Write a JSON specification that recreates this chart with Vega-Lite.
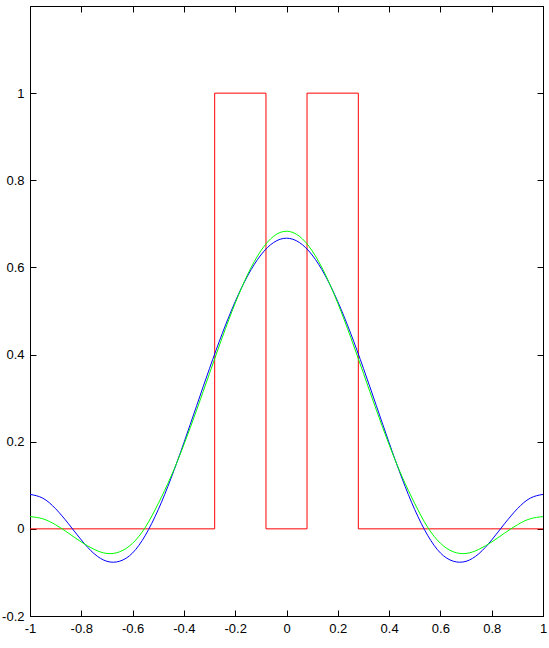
{
  "$schema": "https://vega.github.io/schema/vega-lite/v6.json",
  "width": 513,
  "height": 610,
  "autosize": {"type": "none"},
  "padding": {"left": 30, "top": 6, "right": 6, "bottom": 32},
  "background": "white",
  "config": {
    "view": {"stroke": "black", "strokeWidth": 1},
    "axis": {
      "domainColor": "black",
      "tickColor": "black",
      "labelColor": "black",
      "labelFont": "Liberation Sans",
      "labelFontSize": 13,
      "grid": false,
      "title": null
    }
  },
  "datasets": {
    "step": [
      {"s": "step", "i": 0, "x": -1, "y": 0},
      {"s": "step", "i": 1, "x": -0.28, "y": 0},
      {"s": "step", "i": 2, "x": -0.28, "y": 1},
      {"s": "step", "i": 3, "x": -0.08, "y": 1},
      {"s": "step", "i": 4, "x": -0.08, "y": 0},
      {"s": "step", "i": 5, "x": 0.08, "y": 0},
      {"s": "step", "i": 6, "x": 0.08, "y": 1},
      {"s": "step", "i": 7, "x": 0.28, "y": 1},
      {"s": "step", "i": 8, "x": 0.28, "y": 0},
      {"s": "step", "i": 9, "x": 1, "y": 0}
    ],
    "curves": [
      {"s": "approxA", "i": 0, "x": -1, "y": 0.0791},
      {"s": "approxA", "i": 1, "x": -0.95, "y": 0.0704},
      {"s": "approxA", "i": 2, "x": -0.9, "y": 0.0461},
      {"s": "approxA", "i": 3, "x": -0.85, "y": 0.0117},
      {"s": "approxA", "i": 4, "x": -0.8, "y": -0.0255},
      {"s": "approxA", "i": 5, "x": -0.75, "y": -0.057},
      {"s": "approxA", "i": 6, "x": -0.7, "y": -0.0745},
      {"s": "approxA", "i": 7, "x": -0.65, "y": -0.0742},
      {"s": "approxA", "i": 8, "x": -0.6, "y": -0.0553},
      {"s": "approxA", "i": 9, "x": -0.55, "y": -0.0145},
      {"s": "approxA", "i": 10, "x": -0.5, "y": 0.0441},
      {"s": "approxA", "i": 11, "x": -0.45, "y": 0.1164},
      {"s": "approxA", "i": 12, "x": -0.4, "y": 0.1977},
      {"s": "approxA", "i": 13, "x": -0.35, "y": 0.2831},
      {"s": "approxA", "i": 14, "x": -0.3, "y": 0.3683},
      {"s": "approxA", "i": 15, "x": -0.25, "y": 0.449},
      {"s": "approxA", "i": 16, "x": -0.2, "y": 0.5215},
      {"s": "approxA", "i": 17, "x": -0.15, "y": 0.5824},
      {"s": "approxA", "i": 18, "x": -0.1, "y": 0.6285},
      {"s": "approxA", "i": 19, "x": -0.05, "y": 0.6573},
      {"s": "approxA", "i": 20, "x": 0, "y": 0.6671},
      {"s": "approxA", "i": 21, "x": 0.05, "y": 0.6573},
      {"s": "approxA", "i": 22, "x": 0.1, "y": 0.6285},
      {"s": "approxA", "i": 23, "x": 0.15, "y": 0.5824},
      {"s": "approxA", "i": 24, "x": 0.2, "y": 0.5215},
      {"s": "approxA", "i": 25, "x": 0.25, "y": 0.449},
      {"s": "approxA", "i": 26, "x": 0.3, "y": 0.3683},
      {"s": "approxA", "i": 27, "x": 0.35, "y": 0.2831},
      {"s": "approxA", "i": 28, "x": 0.4, "y": 0.1977},
      {"s": "approxA", "i": 29, "x": 0.45, "y": 0.1164},
      {"s": "approxA", "i": 30, "x": 0.5, "y": 0.0441},
      {"s": "approxA", "i": 31, "x": 0.55, "y": -0.0145},
      {"s": "approxA", "i": 32, "x": 0.6, "y": -0.0553},
      {"s": "approxA", "i": 33, "x": 0.65, "y": -0.0742},
      {"s": "approxA", "i": 34, "x": 0.7, "y": -0.0745},
      {"s": "approxA", "i": 35, "x": 0.75, "y": -0.057},
      {"s": "approxA", "i": 36, "x": 0.8, "y": -0.0255},
      {"s": "approxA", "i": 37, "x": 0.85, "y": 0.0117},
      {"s": "approxA", "i": 38, "x": 0.9, "y": 0.0461},
      {"s": "approxA", "i": 39, "x": 0.95, "y": 0.0704},
      {"s": "approxA", "i": 40, "x": 1, "y": 0.0791},

      {"s": "approxB", "i": 0, "x": -1, "y": 0.0281},
      {"s": "approxB", "i": 1, "x": -0.95, "y": 0.0231},
      {"s": "approxB", "i": 2, "x": -0.9, "y": 0.0093},
      {"s": "approxB", "i": 3, "x": -0.85, "y": -0.0099},
      {"s": "approxB", "i": 4, "x": -0.8, "y": -0.0301},
      {"s": "approxB", "i": 5, "x": -0.75, "y": -0.047},
      {"s": "approxB", "i": 6, "x": -0.7, "y": -0.0565},
      {"s": "approxB", "i": 7, "x": -0.65, "y": -0.0525},
      {"s": "approxB", "i": 8, "x": -0.6, "y": -0.033},
      {"s": "approxB", "i": 9, "x": -0.55, "y": 0.004},
      {"s": "approxB", "i": 10, "x": -0.5, "y": 0.0581},
      {"s": "approxB", "i": 11, "x": -0.45, "y": 0.1206},
      {"s": "approxB", "i": 12, "x": -0.4, "y": 0.1933},
      {"s": "approxB", "i": 13, "x": -0.35, "y": 0.2733},
      {"s": "approxB", "i": 14, "x": -0.3, "y": 0.357},
      {"s": "approxB", "i": 15, "x": -0.25, "y": 0.44},
      {"s": "approxB", "i": 16, "x": -0.2, "y": 0.5179},
      {"s": "approxB", "i": 17, "x": -0.15, "y": 0.5856},
      {"s": "approxB", "i": 18, "x": -0.1, "y": 0.6382},
      {"s": "approxB", "i": 19, "x": -0.05, "y": 0.6716},
      {"s": "approxB", "i": 20, "x": 0, "y": 0.6831},
      {"s": "approxB", "i": 21, "x": 0.05, "y": 0.6716},
      {"s": "approxB", "i": 22, "x": 0.1, "y": 0.6382},
      {"s": "approxB", "i": 23, "x": 0.15, "y": 0.5856},
      {"s": "approxB", "i": 24, "x": 0.2, "y": 0.5179},
      {"s": "approxB", "i": 25, "x": 0.25, "y": 0.44},
      {"s": "approxB", "i": 26, "x": 0.3, "y": 0.357},
      {"s": "approxB", "i": 27, "x": 0.35, "y": 0.2733},
      {"s": "approxB", "i": 28, "x": 0.4, "y": 0.1933},
      {"s": "approxB", "i": 29, "x": 0.45, "y": 0.1206},
      {"s": "approxB", "i": 30, "x": 0.5, "y": 0.0581},
      {"s": "approxB", "i": 31, "x": 0.55, "y": 0.004},
      {"s": "approxB", "i": 32, "x": 0.6, "y": -0.033},
      {"s": "approxB", "i": 33, "x": 0.65, "y": -0.0525},
      {"s": "approxB", "i": 34, "x": 0.7, "y": -0.0565},
      {"s": "approxB", "i": 35, "x": 0.75, "y": -0.047},
      {"s": "approxB", "i": 36, "x": 0.8, "y": -0.0301},
      {"s": "approxB", "i": 37, "x": 0.85, "y": -0.0099},
      {"s": "approxB", "i": 38, "x": 0.9, "y": 0.0093},
      {"s": "approxB", "i": 39, "x": 0.95, "y": 0.0231},
      {"s": "approxB", "i": 40, "x": 1, "y": 0.0281}
    ]
  },
  "resolve": {"axis": {"x": "independent", "y": "independent"}},
  "layer": [
    {
      "data": {"name": "step"},
      "mark": {"type": "line", "strokeWidth": 1, "interpolate": "linear", "clip": true},
      "encoding": {
        "x": {"field": "x", "type": "quantitative",
              "scale": {"domain": [-1, 1], "nice": false, "zero": false},
              "axis": {"orient": "bottom", "values": [-1, -0.8, -0.6, -0.4, -0.2, 0, 0.2, 0.4, 0.6, 0.8, 1],
                       "tickSize": -6, "labelPadding": 12, "labelExpr": "'' + datum.value", "domain": true, "labelFlush": false, "labelOverlap": false}},
        "y": {"field": "y", "type": "quantitative",
              "scale": {"domain": [-0.2, 1.2], "nice": false, "zero": false},
              "axis": {"orient": "left", "values": [-0.2, 0, 0.2, 0.4, 0.6, 0.8, 1],
                       "tickSize": -6, "labelPadding": 12, "labelExpr": "'' + datum.value", "domain": true, "labelFlush": false, "labelOverlap": false}},
        "color": {"field": "s", "type": "nominal", "legend": null,
                  "scale": {"domain": ["step", "approxB", "approxA"], "range": ["#ff0000", "#00ff00", "#0000ff"]}},
        "order": {"field": "i", "type": "quantitative"}
      }
    },
    {
      "data": {"name": "curves"},
      "mark": {"type": "line", "strokeWidth": 1, "interpolate": "natural", "clip": true},
      "encoding": {
        "x": {"field": "x", "type": "quantitative", "axis": null},
        "y": {"field": "y", "type": "quantitative", "axis": null},
        "color": {"field": "s", "type": "nominal", "legend": null},
        "order": {"field": "i", "type": "quantitative"}
      }
    },
    {
      "data": {"name": "step"},
      "mark": {"type": "point", "opacity": 0},
      "encoding": {
        "x": {"field": "x", "type": "quantitative",
              "axis": {"orient": "top", "values": [-1, -0.8, -0.6, -0.4, -0.2, 0, 0.2, 0.4, 0.6, 0.8, 1], "tickSize": -6, "labels": false, "domain": true}},
        "y": {"field": "y", "type": "quantitative",
              "axis": {"orient": "right", "values": [-0.2, 0, 0.2, 0.4, 0.6, 0.8, 1], "tickSize": -6, "labels": false, "domain": true}}
      }
    }
  ]
}
